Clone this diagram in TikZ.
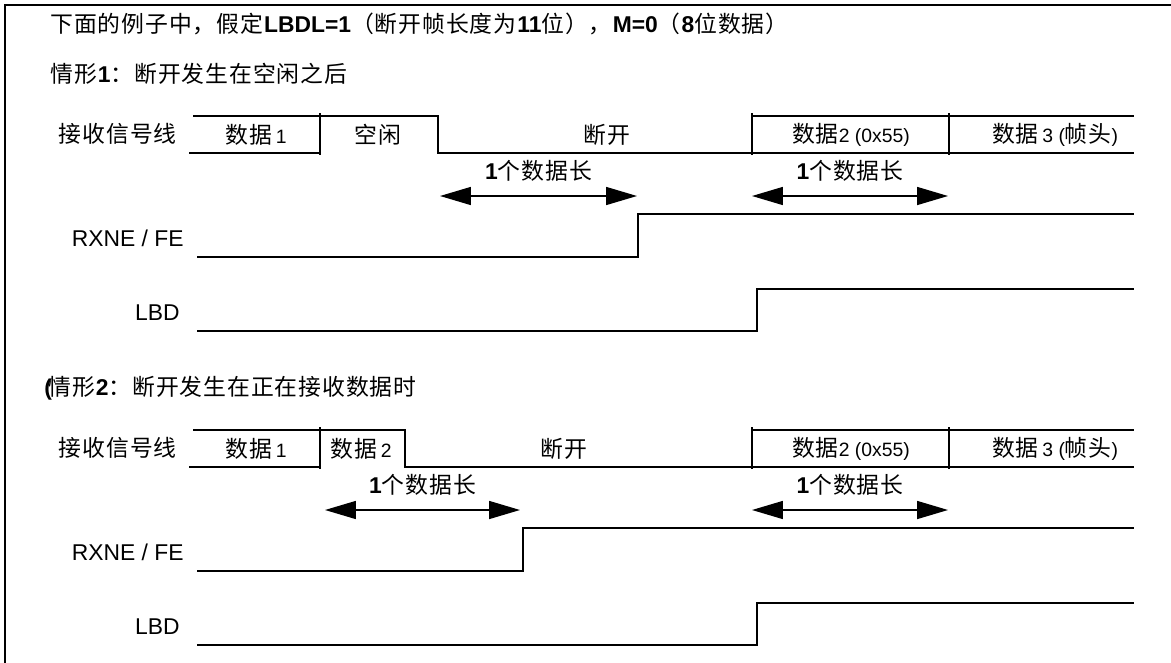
\documentclass[tikz,border=0pt]{standalone}
\usepackage{fontspec}
\setmainfont{Liberation Sans}
\newfontfamily\cjk[LetterSpace=4]{Noto Sans CJK SC}
\usepackage{tikz}
\usetikzlibrary{arrows.meta, positioning}
\newcommand{\zh}[1]{{\cjk #1}}
\newcommand{\sm}[1]{{\fontsize{11pt}{13pt}\selectfont #1}}
\tikzset{
headtext/.style={
anchor=west,
inner sep=0pt
},
sigtext/.style={
anchor=east,
inner sep=0pt
},
segtext/.style={
inner sep=0pt
},
spanlabel/.style={
above=8pt,
inner sep=0pt
},
wave/.style={
line width=0.9pt,
draw=black
},
spanarrow/.style={
{Triangle[length=0.62cm,width=0.36cm]}-{Triangle[length=0.62cm,width=0.36cm]},
line width=0.9pt,
draw=black
},
frameline/.style={
line width=1.3pt,
draw=black
}
}
\begin{document}
\begin{tikzpicture}[
x=0.02cm, y=-0.02cm,
font=\fontsize{13pt}{15pt}\selectfont
]
\useasboundingbox (0,0) rectangle (1171,663);

% frame
\draw[frameline] (1171,5) -- (5,5) -- (5,663);

% headings
\node[headtext] (intro) at (50,24)
  {\zh{下面的例子中，假定}\textbf{LBDL=1}\zh{（断开帧长度为}\textbf{11}\zh{位），}\textbf{M=0}\zh{（}\textbf{8}\zh{位数据）}};
\node[headtext] (caseone) at (50,74) {\zh{情形}\textbf{1}\zh{：断开发生在空闲之后}};
\node[headtext] (casetwo) at (44,388) {\textbf{(}\kern-2pt\zh{情形}\textbf{2}\zh{：断开发生在正在接收数据时}};

% case 1: receive line
\node[sigtext] (busone) at (177,134) {\zh{接收信号线}};
\node[segtext] (dataonea) at (256,135) {\zh{数据}\thinspace\sm{1}};
\node[segtext] (idle) at (378,135) {\zh{空闲}};
\node[segtext] (breakone) at (607,135) {\zh{断开}};
\node[segtext] (datatwoa) at (851,135) {\zh{数据}\sm{2 (0x55)}};
\node[segtext] (datathreea) at (1055,135) {\zh{数据}\thinspace\sm{3 (}\zh{帧头}\sm{)}};
\draw[wave] (189,153) -- (320,153);
\draw[wave] (193,116) -- (438,116) -- (438,153) -- (1134,153);
\draw[wave] (752,116) -- (1134,116);
\draw[wave] (320,113) -- (320,155);
\draw[wave] (752,113) -- (752,155);
\draw[wave] (949,113) -- (949,155);

\coordinate (spanonea) at (440,196);
\coordinate (spanoneb) at (637,196);
\coordinate (spanonec) at (752,196);
\coordinate (spanoned) at (948,196);
\draw[spanarrow] (spanonea) -- node[spanlabel] (lenonea) {\textbf{1}\zh{个数据长}} (spanoneb);
\draw[spanarrow] (spanonec) -- node[spanlabel] (lenoneb) {\textbf{1}\zh{个数据长}} (spanoned);

% case 1: flags
\node[sigtext] (rxneone) at (184,238) {RXNE / FE};
\draw[wave] (197,257) -- (638,257) -- (638,214) -- (1134,214);
\node[sigtext] (lbdone) at (180,313) {LBD};
\draw[wave] (197,331) -- (757,331) -- (757,289) -- (1134,289);

% case 2: receive line
\node[sigtext] (bustwo) at (177,448) {\zh{接收信号线}};
\node[segtext] (dataoneb) at (256,449) {\zh{数据}\thinspace\sm{1}};
\node[segtext] (datatwob) at (361,449) {\zh{数据}\thinspace\sm{2}};
\node[segtext] (breaktwo) at (564,449) {\zh{断开}};
\node[segtext] (datatwoc) at (851,449) {\zh{数据}\sm{2 (0x55)}};
\node[segtext] (datathreeb) at (1055,449) {\zh{数据}\thinspace\sm{3 (}\zh{帧头}\sm{)}};
\draw[wave] (189,467) -- (320,467);
\draw[wave] (193,430) -- (405,430) -- (405,467) -- (1134,467);
\draw[wave] (752,430) -- (1134,430);
\draw[wave] (320,427) -- (320,469);
\draw[wave] (752,427) -- (752,469);
\draw[wave] (949,427) -- (949,469);

\coordinate (spantwoa) at (325,510);
\coordinate (spantwob) at (520,510);
\coordinate (spantwoc) at (752,510);
\coordinate (spantwod) at (948,510);
\draw[spanarrow] (spantwoa) -- node[spanlabel] (lentwoa) {\textbf{1}\zh{个数据长}} (spantwob);
\draw[spanarrow] (spantwoc) -- node[spanlabel] (lentwob) {\textbf{1}\zh{个数据长}} (spantwod);

% case 2: flags
\node[sigtext] (rxnetwo) at (184,552) {RXNE / FE};
\draw[wave] (197,571) -- (523,571) -- (523,528) -- (1134,528);
\node[sigtext] (lbdtwo) at (180,627) {LBD};
\draw[wave] (197,645) -- (757,645) -- (757,603) -- (1134,603);

\end{tikzpicture}
\end{document}
